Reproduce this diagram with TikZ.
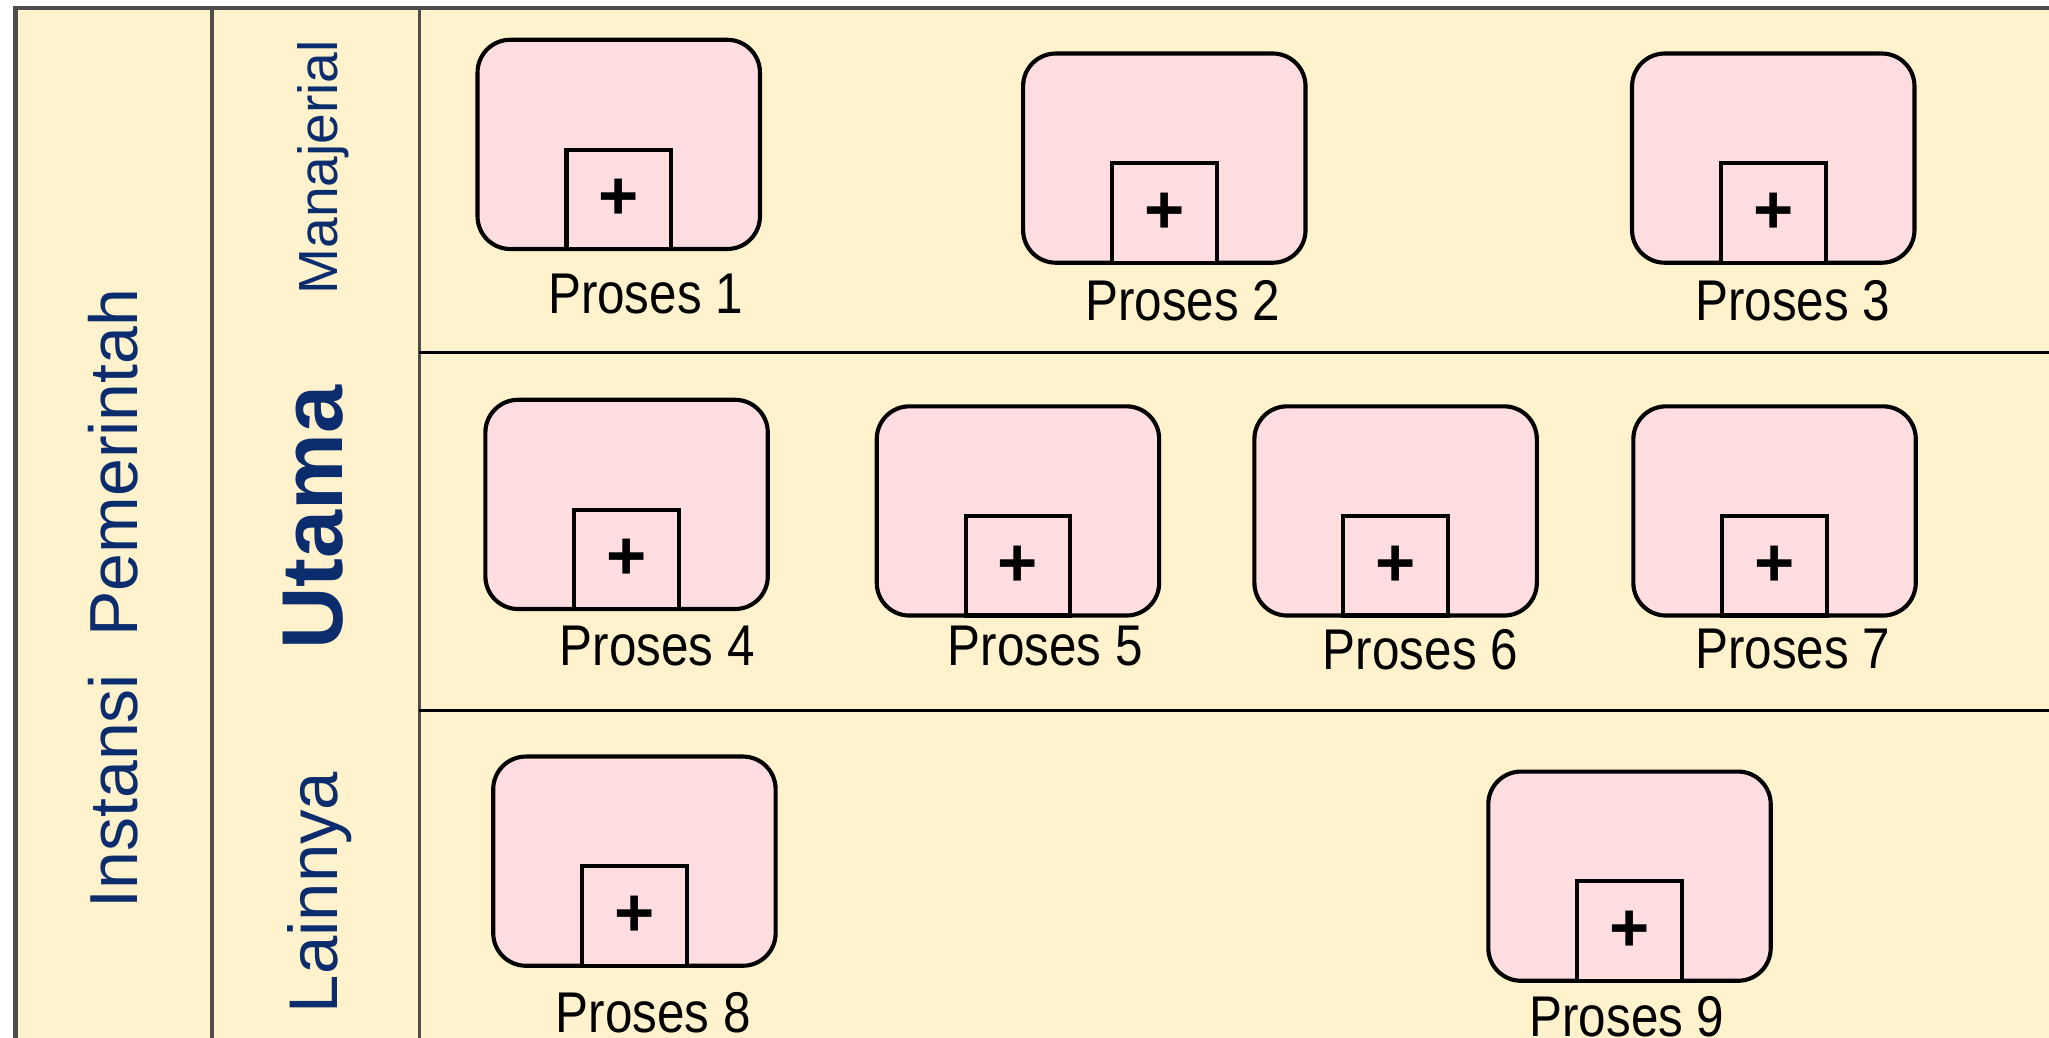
\documentclass[tikz,border=0pt]{standalone}
\usepackage{fontspec}
\setmainfont{Liberation Sans}
\newfontfamily\labelfont[FakeStretch=0.86]{Liberation Sans}
\usepackage{xcolor}
\usetikzlibrary{positioning}

\definecolor{lanebg}{HTML}{FFF2CC}
\definecolor{prosespink}{HTML}{FFDDE1}
\definecolor{lanetext}{HTML}{0B2D6E}
\definecolor{frameline}{HTML}{4D4D4D}

\tikzset{
  proses/.style={draw, line width=0.9pt, rounded corners=0.25cm, fill=prosespink,
    minimum width=2.16cm, minimum height=1.6cm, inner sep=0pt},
  subproses/.style={draw, line width=0.9pt, fill=prosespink, anchor=south,
    minimum width=0.8cm, minimum height=0.76cm, inner sep=0pt,
    font=\fontsize{15pt}{15pt}\bfseries},
  proseslabel/.style={font=\labelfont\fontsize{12.5pt}{14pt}\selectfont, inner sep=0pt},
  lanelabel/.style={rotate=90, anchor=base, text=lanetext, inner sep=0pt},
}

\begin{document}
\begin{tikzpicture}[x=0.01cm, y=-0.01cm]
        \useasboundingbox (0,0) rectangle (1568,794);
        \fill[white] (0,0) rectangle (1568,794);
        \fill[lanebg] (12,6) rectangle (1580,800);

        % lanes
        \draw[frameline, line width=1pt] (12,800) -- (12,6) -- (1580,6);
        \draw[frameline, line width=0.8pt] (162,6) -- (162,800);
        \draw[frameline, line width=0.8pt] (321,6) -- (321,800);
        \draw[line width=0.6pt] (321,270) -- (1580,270);
        \draw[line width=0.6pt] (321,544) -- (1580,544);

        \node[lanelabel, font=\fontsize{14.8pt}{16pt}\selectfont] (instansi) at (105,458) {Instansi\hspace{0.55em}Pemerintah};
        \node[lanelabel, font=\fontsize{12pt}{14pt}\selectfont] (manajerial) at (258,128) {Manajerial};
        \node[lanelabel, font=\fontsize{18.8pt}{20pt}\bfseries] (utama) at (262,396) {Utama};
        \node[lanelabel, font=\fontsize{15pt}{16pt}\selectfont] (lainnya) at (258,683) {Lainnya};

        % Manajerial
        \node[proses] (p1) at (473.5,110.5) {};
        \node[subproses] (s1) at (p1.south) {+};
        \node[proseslabel] (l1) at (494,225) {Proses 1};

        \node[proses] (p2) at (891,121) {};
        \node[subproses] (s2) at (p2.south) {+};
        \node[proseslabel] (l2) at (905,230) {Proses 2};

        \node[proses] (p3) at (1357,121) {};
        \node[subproses] (s3) at (p3.south) {+};
        \node[proseslabel] (l3) at (1372,230) {Proses 3};

        % Utama
        \node[proses] (p4) at (479.5,386) {};
        \node[subproses] (s4) at (p4.south) {+};
        \node[proseslabel] (l4) at (503,494) {Proses 4};

        \node[proses] (p5) at (779,391) {};
        \node[subproses] (s5) at (p5.south) {+};
        \node[proseslabel] (l5) at (800,494) {Proses 5};

        \node[proses] (p6) at (1068,391) {};
        \node[subproses] (s6) at (p6.south) {+};
        \node[proseslabel] (l6) at (1087,497) {Proses 6};

        \node[proses] (p7) at (1358,391) {};
        \node[subproses] (s7) at (p7.south) {+};
        \node[proseslabel] (l7) at (1372,497) {Proses 7};

        % Lainnya
        \node[proses] (p8) at (485.5,659) {};
        \node[subproses] (s8) at (p8.south) {+};
        \node[proseslabel] (l8) at (500,775) {Proses 8};

        \node[proses] (p9) at (1247,670.5) {};
        \node[subproses] (s9) at (p9.south) {+};
        \node[proseslabel] (l9) at (1245,778) {Proses 9};
    \end{tikzpicture}
\end{document}
